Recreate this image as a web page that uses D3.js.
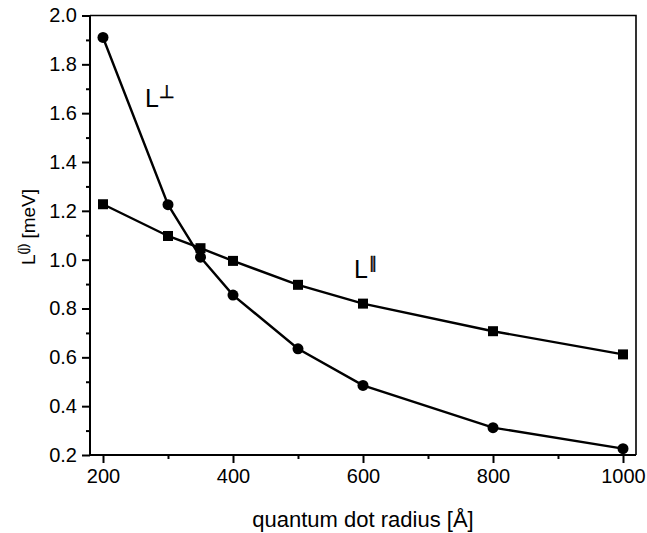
<!DOCTYPE html>
<html>
<head>
<meta charset="utf-8">
<script src="https://cdn.jsdelivr.net/npm/d3@7"></script>
<style>
  body { margin: 0; background: #fff; }
  text { font-family: "Liberation Sans", Arial, Helvetica, sans-serif; fill: #000; }
</style>
</head>
<body>
<div id="chart"></div>
<script>
// quantum dot radius [Å]
var radius = [200, 300, 350, 400, 500, 600, 800, 1000];
// L perpendicular (circles)
var lPerp = [1.91, 1.225, 1.01, 0.855, 0.635, 0.485, 0.312, 0.226];
// L parallel (squares)
var lPar = [1.227, 1.097, 1.047, 0.995, 0.897, 0.82, 0.707, 0.612];

var xTicks = [200, 400, 600, 800, 1000];
var xMinor = [300, 500, 700, 900];
var yTicks = [0.2, 0.4, 0.6, 0.8, 1.0, 1.2, 1.4, 1.6, 1.8, 2.0];
var yMinor = [0.3, 0.5, 0.7, 0.9, 1.1, 1.3, 1.5, 1.7, 1.9];

var W = 647, H = 533;
var m = {left: 90, right: 11, top: 15.5, bottom: 78};

var svg = d3.select('#chart').append('svg')
    .attr('width', W)
    .attr('height', H);

var x = d3.scaleLinear().domain([180, 1020]).range([m.left, W - m.right]);
var y = d3.scaleLinear().domain([0.2, 2.0]).range([H - m.bottom, m.top]);

// frame: top and right lines
svg.append('path')
    .attr('d', 'M' + x(180) + ',' + y(2.0) + 'H' + x(1020) + 'V' + y(0.2))
    .attr('fill', 'none')
    .attr('stroke', '#000')
    .attr('stroke-width', 1.6);

// axes
svg.append('g')
    .attr('class', 'x-axis')
    .attr('transform', 'translate(0,' + y(0.2) + ')')
    .call(d3.axisBottom(x).tickValues(xTicks).tickSize(8).tickPadding(6).tickFormat(d3.format('d')));
svg.append('g')
    .attr('transform', 'translate(0,' + y(0.2) + ')')
    .call(d3.axisBottom(x).tickValues(xMinor).tickSize(4).tickFormat(''))
    .select('.domain').remove();

svg.append('g')
    .attr('class', 'y-axis')
    .attr('transform', 'translate(' + x(180) + ',0)')
    .call(d3.axisLeft(y).tickValues(yTicks).tickSize(8).tickPadding(5).tickFormat(d3.format('.1f')));
svg.append('g')
    .attr('transform', 'translate(' + x(180) + ',0)')
    .call(d3.axisLeft(y).tickValues(yMinor).tickSize(4).tickFormat(''))
    .select('.domain').remove();

svg.selectAll('.domain, .tick line')
    .attr('stroke', '#000')
    .attr('stroke-width', 2);
// domains run the full frame, no outer ticks
svg.select('.x-axis .domain').attr('d', 'M' + x(180) + ',0H' + x(1020));
svg.select('.y-axis .domain').attr('d', 'M0,' + y(0.2) + 'V' + y(2.0));
svg.selectAll('.tick text')
    .style('font-size', '20px')
    .attr('fill', '#000');

// series lines
var line = function (vals) {
    return d3.line()
        .x(function (d, i) { return x(radius[i]); })
        .y(function (d) { return y(d); })(vals);
};

svg.append('path')
    .attr('d', line(lPerp))
    .attr('fill', 'none')
    .attr('stroke', '#000')
    .attr('stroke-width', 2.4);

svg.append('path')
    .attr('d', line(lPar))
    .attr('fill', 'none')
    .attr('stroke', '#000')
    .attr('stroke-width', 2.4);

svg.append('g').selectAll('circle')
    .data(lPerp)
    .enter().append('circle')
    .attr('cx', function (d, i) { return x(radius[i]); })
    .attr('cy', function (d) { return y(d); })
    .attr('r', 5.5)
    .attr('fill', '#000');

svg.append('g').selectAll('rect')
    .data(lPar)
    .enter().append('rect')
    .attr('x', function (d, i) { return x(radius[i]) - 5; })
    .attr('y', function (d) { return y(d) - 5; })
    .attr('width', 10)
    .attr('height', 10)
    .attr('fill', '#000');

// axis titles
svg.append('text')
    .attr('x', (x(180) + x(1020)) / 2)
    .attr('y', 527)
    .attr('text-anchor', 'middle')
    .style('font-size', '22px')
    .text('quantum dot radius [Å]');

var yTitle = svg.append('text')
    .attr('transform', 'translate(35,' + 227 + ') rotate(-90)')
    .attr('text-anchor', 'middle')
    .style('font-size', '19px');
yTitle.append('tspan').text('L');
yTitle.append('tspan')
    .attr('dy', -8)
    .style('font-size', '12px')
    .attr('stroke', '#000')
    .attr('stroke-width', 0.3)
    .text('(j)');
yTitle.append('tspan').attr('dy', 8).text(' [meV]');

// curve labels (stroked so the thin glyphs render as plain black)
var perpLabel = svg.append('text')
    .attr('x', 145)
    .attr('y', 107)
    .style('font-size', '25px');
perpLabel.append('tspan').text('L');
perpLabel.append('tspan')
    .attr('dy', -9)
    .style('font-family', '"DejaVu Sans", sans-serif')
    .style('font-size', '18px')
    .attr('stroke', '#000')
    .attr('stroke-width', 0.6)
    .text('⊥');

var parLabel = svg.append('text')
    .attr('x', 354)
    .attr('y', 278)
    .style('font-size', '25px');
parLabel.append('tspan').text('L');
parLabel.append('tspan')
    .attr('dy', -10)
    .attr('dx', 1)
    .style('font-family', '"DejaVu Sans", sans-serif')
    .style('font-size', '16px')
    .attr('stroke', '#000')
    .attr('stroke-width', 0.5)
    .text('∥');
</script>
</body>
</html>
